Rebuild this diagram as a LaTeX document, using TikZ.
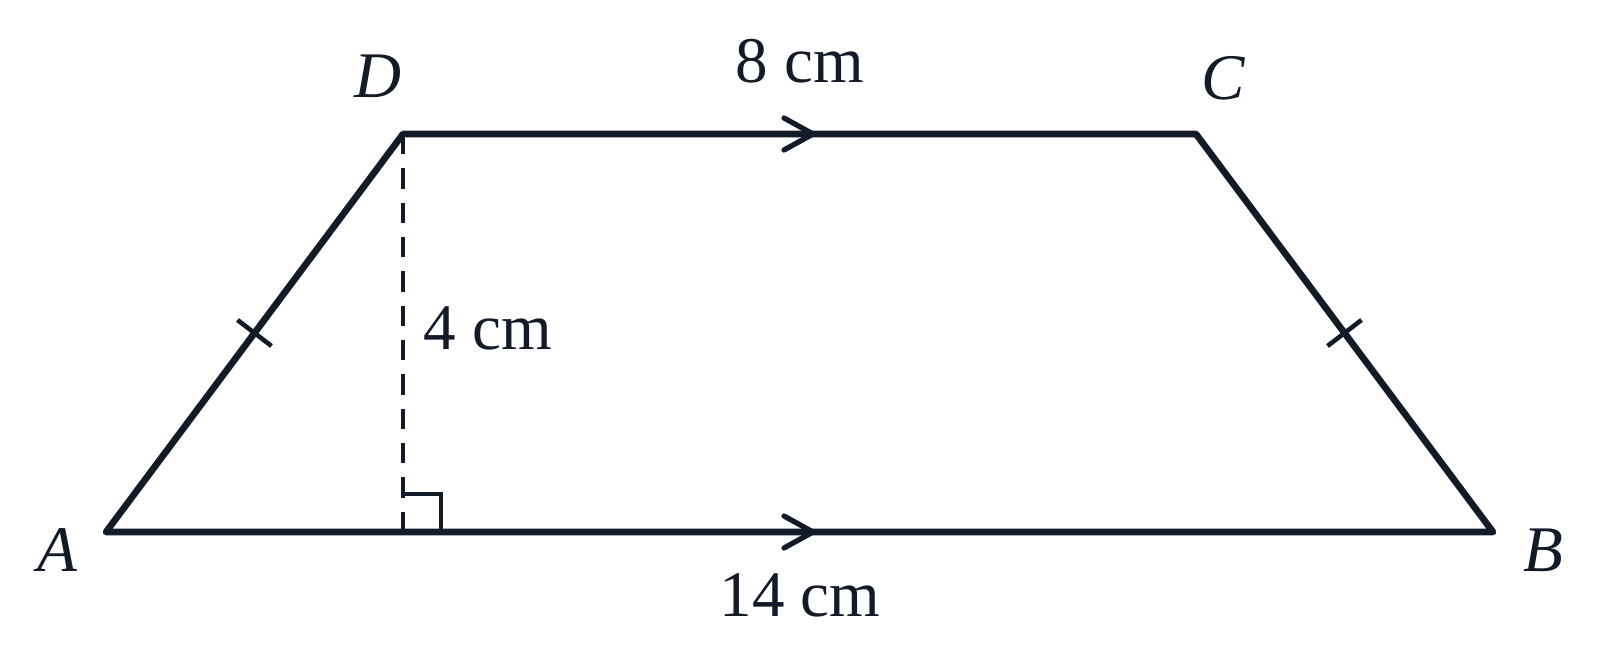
\documentclass[tikz,border=0pt]{standalone}
\usepackage{fontspec}
\setmainfont{Liberation Serif}
\usetikzlibrary{calc}
\definecolor{ink}{HTML}{131A28}
\begin{document}
\begin{tikzpicture}[x=0.01cm,y=-0.01cm,
  side/.style={draw=ink,line width=1.9pt,line join=round,line cap=round},
  chev/.style={draw=ink,line width=1.5pt,line cap=round,line join=miter},
  tick/.style={draw=ink,line width=1.3pt},
  lbl/.style={text=ink,inner sep=0pt,font=\fontsize{18.5}{22}\selectfont}]
\useasboundingbox (0,0) rectangle (1600,666);
\coordinate (A) at (106,532);
\coordinate (B) at (1493,532);
\coordinate (C) at (1196,134);
\coordinate (D) at (403,134);
\coordinate (F) at (403,532);
% dashed height
\draw[ink,line width=1.35pt,dash pattern=on 5.8pt off 3.96pt] (D) -- (F);
% right angle mark
\draw[ink,line width=0.95pt] ($(F)+(0,-38)$) -- ++(38,0) -- ++(0,38);
% sides
\draw[side] (A) -- (B) -- (C) -- (D) -- cycle;
% parallel chevrons
\draw[chev] (784,118) -- (813,134) -- (784,150);
\draw[chev] (784,516) -- (813,532) -- (784,548);
% equal ticks
\draw[tick] ($(A)!0.5!(D)$) ++(-17,-13) coordinate (t1) -- ++(34,26) coordinate (t2);
\draw[tick] ($(B)!0.5!(C)$) ++(17,-13) coordinate (t3) -- ++(-34,26) coordinate (t4);
% labels
\node[lbl] (lA) at (57,550) {\itshape A};
\node[lbl] (lB) at (1543,550) {\itshape B};
\node[lbl] (lC) at (1223,78) {\itshape C};
\node[lbl] (lD) at (378,76) {\itshape D};
\node[lbl] (l8) at (800,61) {8 cm};
\node[lbl] (l14) at (800,595) {14 cm};
\node[lbl,anchor=west] (l4) at (423,328) {4 cm};
\end{tikzpicture}
\end{document}
